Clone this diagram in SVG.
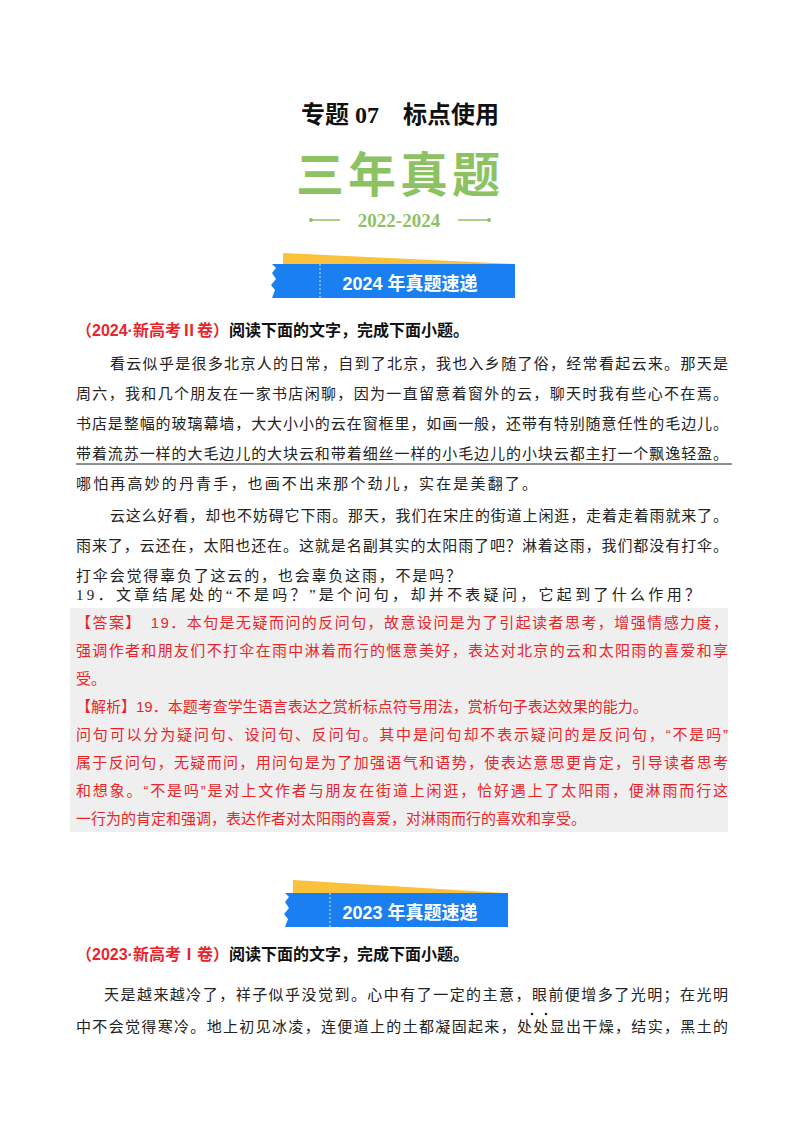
<svg xmlns="http://www.w3.org/2000/svg" width="800" height="1132" viewBox="0 0 800 1132">
<style>
.b{font-family:"Liberation Serif","Noto Sans CJK SC",serif;font-size:15px;fill:#222}
.r{font-family:"Liberation Sans","Noto Sans CJK SC",sans-serif;font-size:15px;fill:#e8262a}
.h{font-family:"Liberation Sans","Noto Sans CJK SC",sans-serif;font-size:16px;font-weight:bold}
.bn{font-family:"Liberation Sans","Noto Sans CJK SC",sans-serif;font-size:18px;font-weight:bold;fill:#fff}
</style>
<rect width="800" height="1132" fill="#fff"/>
<g id="title">
<text x="400" y="123" text-anchor="middle" font-family="Liberation Serif,Noto Sans CJK SC,serif" font-size="24" font-weight="bold" fill="#111">专题 07　标点使用</text>
<text x="400" y="192" text-anchor="middle" font-family="Noto Sans CJK SC,sans-serif" font-size="48" font-weight="bold" fill="#8dc262" letter-spacing="4">三年真题</text>
<line x1="311" y1="220" x2="340" y2="220" stroke="#8dc262" stroke-width="1.5"/>
<circle cx="311" cy="220" r="2" fill="#8dc262"/>
<line x1="458" y1="220" x2="489" y2="220" stroke="#8dc262" stroke-width="1.5"/>
<circle cx="489" cy="220" r="2" fill="#8dc262"/>
<text x="399" y="227" text-anchor="middle" font-family="Liberation Serif,serif" font-size="19" font-weight="bold" fill="#8dc262">2022-2024</text>
</g>
<g id="banner2024">
<polygon points="283,253 515,264 283,264" fill="#f9c13c"/>
<path d="M272,264 H515 V298 H272 L275,290 L271,285 L276,279 L272,273 L276,268 Z" fill="#1a7ff0"/>
<line x1="320" y1="264" x2="320" y2="298" stroke="#fff" stroke-width="0.8" stroke-dasharray="2,2"/>
<text class="bn" x="410" y="290" text-anchor="middle">2024 年真题速递</text>
</g>
<g id="q2024">
<text class="h" x="76" y="336"><tspan fill="#e8262a">（2024·新高考Ⅱ卷）</tspan><tspan fill="#111">阅读下面的文字，完成下面小题。</tspan></text>
<text class="b" x="110" y="369" textLength="618">看云似乎是很多北京人的日常，自到了北京，我也入乡随了俗，经常看起云来。那天是</text>
<text class="b" x="76" y="399" textLength="652">周六，我和几个朋友在一家书店闲聊，因为一直留意着窗外的云，聊天时我有些心不在焉。</text>
<text class="b" x="76" y="429" textLength="652">书店是整幅的玻璃幕墙，大大小小的云在窗框里，如画一般，还带有特别随意任性的毛边儿。</text>
<text class="b" x="76" y="459" textLength="652">带着流苏一样的大毛边儿的大块云和带着细丝一样的小毛边儿的小块云都主打一个飘逸轻盈。</text>
<line x1="76" y1="464" x2="732" y2="464" stroke="#222" stroke-width="1"/>
<text class="b" x="76" y="489" textLength="461">哪怕再高妙的丹青手，也画不出来那个劲儿，实在是美翻了。</text>
<text class="b" x="110" y="521" textLength="618">云这么好看，却也不妨碍它下雨。那天，我们在宋庄的街道上闲逛，走着走着雨就来了。</text>
<text class="b" x="76" y="551" textLength="652">雨来了，云还在，太阳也还在。这就是名副其实的太阳雨了吧？淋着这雨，我们都没有打伞。</text>
<text class="b" x="76" y="581" textLength="385">打伞会觉得辜负了这云的，也会辜负这雨，不是吗？</text>
<text class="b" x="76" y="600" font-size="16" textLength="624" font-family="Liberation Sans,Noto Sans CJK SC,sans-serif">19．文章结尾处的“不是吗？”是个问句，却并不表疑问，它起到了什么作用？</text>
</g>
<g id="answer">
<rect x="70" y="608" width="658" height="224" fill="#efefef"/>
<text class="r" x="76" y="628" textLength="652">【答案】　19．本句是无疑而问的反问句，故意设问是为了引起读者思考，增强情感力度，</text>
<text class="r" x="76" y="656" textLength="652">强调作者和朋友们不打伞在雨中淋着而行的惬意美好，表达对北京的云和太阳雨的喜爱和享</text>
<text class="r" x="76" y="684">受。</text>
<text class="r" x="76" y="712">【解析】19．本题考查学生语言表达之赏析标点符号用法，赏析句子表达效果的能力。</text>
<text class="r" x="76" y="740" textLength="652">问句可以分为疑问句、设问句、反问句。其中是问句却不表示疑问的是反问句，“不是吗”</text>
<text class="r" x="76" y="768" textLength="652">属于反问句，无疑而问，用问句是为了加强语气和语势，使表达意思更肯定，引导读者思考</text>
<text class="r" x="76" y="796" textLength="652">和想象。“不是吗”是对上文作者与朋友在街道上闲逛，恰好遇上了太阳雨，便淋雨而行这</text>
<text class="r" x="76" y="824">一行为的肯定和强调，表达作者对太阳雨的喜爱，对淋雨而行的喜欢和享受。</text>
</g>
<g id="banner2023">
<polygon points="293,880 505,893 293,893" fill="#f9c13c"/>
<path d="M285,893 H508 V927 H285 L288,919 L284,914 L289,908 L285,902 L289,897 Z" fill="#1a7ff0"/>
<line x1="330" y1="893" x2="330" y2="927" stroke="#fff" stroke-width="0.8" stroke-dasharray="2,2"/>
<text class="bn" x="410" y="919" text-anchor="middle">2023 年真题速递</text>
</g>
<g id="q2023">
<text class="h" x="76" y="960"><tspan fill="#e8262a">（2023·新高考Ⅰ卷）</tspan><tspan fill="#111">阅读下面的文字，完成下面小题。</tspan></text>
<text class="b" x="104" y="1000" textLength="624">天是越来越冷了，祥子似乎没觉到。心中有了一定的主意，眼前便增多了光明；在光明</text>
<text class="b" x="76" y="1032" textLength="652">中不会觉得寒冷。地上初见冰凌，连便道上的土都凝固起来，处处显出干燥，结实，黑土的</text>
<circle cx="532" cy="1014" r="1.3" fill="#222"/>
<circle cx="546" cy="1014" r="1.3" fill="#222"/>
</g>
</svg>
